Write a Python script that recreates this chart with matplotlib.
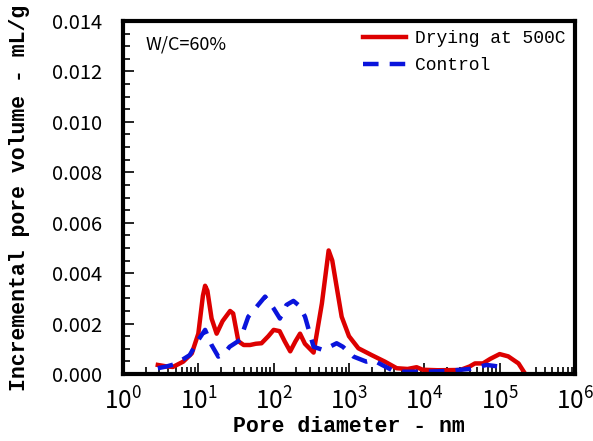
import matplotlib
matplotlib.use("Agg")
import matplotlib.pyplot as plt
from matplotlib.ticker import MultipleLocator, LogLocator, NullFormatter, FormatStrFormatter

# Data
dry_x = [2.9, 3.8, 4.6, 6.3, 8.2, 10, 11.5, 12.3, 13.2, 15, 17.5, 21, 26.4, 29, 34, 40, 48.5, 58, 69, 85,
         100, 120, 140, 166, 195, 224, 260, 339, 437, 537, 600, 700, 800, 1000, 1333, 2000, 3000, 4300,
         6000, 7900, 9500, 15000, 30000, 40000, 47000, 60000, 75000, 100000, 130000, 178000, 219000]
dry_y = [0.00036, 0.0003, 0.00028, 0.00049, 0.00082, 0.0016, 0.0031, 0.0035, 0.0033, 0.0022, 0.0016,
         0.0021, 0.0025, 0.0024, 0.0013, 0.00115, 0.00115, 0.0012, 0.00122, 0.0015, 0.00175, 0.0017,
         0.0013, 0.0009, 0.0013, 0.0016, 0.0012, 0.00085, 0.0028, 0.0049, 0.0045, 0.0033, 0.00227,
         0.0015, 0.00102, 0.00075, 0.00049, 0.00023, 0.0002, 0.00027, 0.00017, 0.00015, 0.00016,
         0.0003, 0.00042, 0.00042, 0.0006, 0.00079, 0.0007, 0.00042, 0.0]

ctrl_x = [2.9, 3.8, 5, 7.7, 10, 12.3, 15, 18.4, 22, 26, 35.8, 46, 59.6, 77, 100, 121, 148, 183, 220, 261,
          339, 455, 686, 830, 1150, 1700, 2100, 2750, 3700, 5000, 10000, 20000, 40000, 67000, 96000, 117000]
ctrl_y = [0.00023, 0.0003, 0.0004, 0.00075, 0.00135, 0.00175, 0.00115, 0.00069, 0.0008, 0.00108, 0.00135,
          0.00227, 0.00267, 0.00307, 0.0026, 0.0022, 0.00274, 0.0029, 0.0027, 0.00227, 0.00108, 0.00095,
          0.00122, 0.00108, 0.00069, 0.00049, 0.00055, 0.00036, 0.00016, 0.00009, 0.00009, 0.00012,
          0.0002, 0.00036, 0.0003, 0.00009]

series_labels = ["Drying at 500C", "Control"]
annotation = "W/C=60%"
x_label = "Pore diameter - nm"
y_label = "Incremental pore volume - mL/g"

plt.rcParams['mathtext.default'] = 'regular'
plt.rcParams['font.family'] = ['Noto Sans CJK JP', 'DejaVu Sans']
plt.rcParams['xtick.direction'] = 'in'
plt.rcParams['ytick.direction'] = 'in'
plt.rcParams['ytick.major.pad'] = 15
plt.rcParams['xtick.major.pad'] = 10

fig = plt.figure(figsize=(5.93, 4.41), dpi=100)
ax = fig.add_axes([0.2074, 0.1519, 0.7622, 0.8005])

ax.plot(dry_x, dry_y, color='#dd0000', lw=3.2, label=series_labels[0], solid_joinstyle='round')
ax.plot(ctrl_x, ctrl_y, color='#0a14dc', lw=3.2, ls=(0, (3.5, 2.5)), label=series_labels[1])

ax.set_xscale('log')
ax.set_xlim(1, 1e6)
ax.set_ylim(0, 0.014)
ax.yaxis.set_major_locator(MultipleLocator(0.002))
ax.yaxis.set_minor_locator(MultipleLocator(0.0005))
ax.yaxis.set_major_formatter(FormatStrFormatter('%.3f'))
ax.xaxis.set_major_locator(LogLocator(base=10, numticks=10))
ax.xaxis.set_minor_locator(LogLocator(base=10, subs=range(2, 10), numticks=100))
ax.xaxis.set_minor_formatter(NullFormatter())

for s in ax.spines.values():
    s.set_linewidth(3)
ax.tick_params(which='both', top=False, right=False, width=1.2)
ax.tick_params(which='major', length=8)
ax.tick_params(which='minor', length=5)
ax.tick_params(axis='y', which='major', labelsize=14.5, pad=15)
ax.tick_params(axis='x', which='major', labelsize=17.5, pad=10)

ax.set_xlabel(x_label, fontsize=15.5, fontweight='bold', family='Liberation Mono', va='center')
ax.set_ylabel(y_label, fontsize=15.5, fontweight='bold', family='Liberation Mono', va='center')
ax.xaxis.set_label_coords(0.5, -0.150)
ax.yaxis.set_label_coords(-0.228, 0.5)

ax.text(0.05, 0.96, annotation, transform=ax.transAxes, fontsize=13, va='top', ha='left')
leg = ax.legend(loc='upper right', frameon=False, handlelength=2.4,
                prop={'family': 'Liberation Mono', 'size': 13},
                borderaxespad=0.1, labelspacing=0.55, handletextpad=0.5)

fig.savefig('out.png', dpi=100)
